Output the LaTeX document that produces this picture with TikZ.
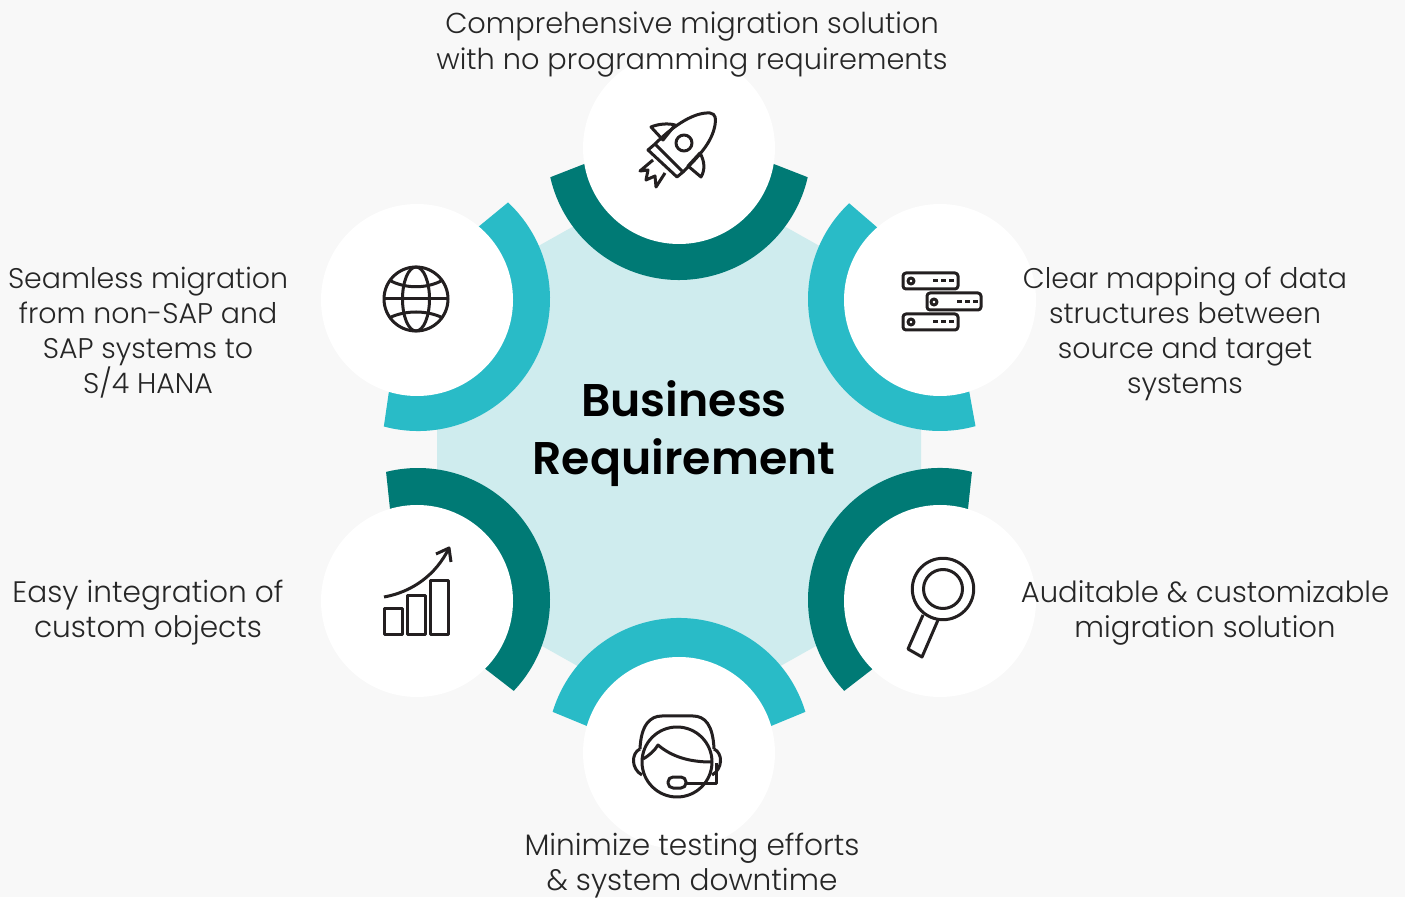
\documentclass[tikz,border=0pt]{standalone}
\usepackage{fontspec}
\setmainfont{Poppins}[UprightFont=* Light,BoldFont=* SemiBold]
\definecolor{pagegrey}{HTML}{F8F8F8}
\definecolor{darkteal}{HTML}{007A75}
\definecolor{lightteal}{HTML}{29BBC7}
\definecolor{paleteal}{HTML}{CFECEE}
\definecolor{icongrey}{HTML}{231F20}
\tikzset{
	whitedisc/.style={circle,fill=white,minimum size=192pt,inner sep=0pt},
	caption/.style={align=center,font=\fontsize{28.4}{35}\selectfont,text=black!85,inner sep=0pt},
	widecaption/.style={caption,font=\fontsize{29.6}{35}\selectfont},
	iconline/.style={draw=icongrey,line width=3pt,line join=round},
}

\begin{document}
\begin{tikzpicture}[x=1pt,y=1pt]
	\useasboundingbox (0,0) rectangle (1405,897);
	\fill[pagegrey] (0,0) rectangle (1405,897);

	% centre hexagon
	\fill[paleteal] (437,310) -- (437,594) -- (679,730) -- (921,594) -- (921,310) -- (679,174) -- cycle;

	% rings
	\fill[darkteal] (679,770) -- ([shift={(679,749)}]192.8:132) arc (192.8:347.2:132) -- cycle;
	\fill[lightteal] (951,606) -- ([shift={(940,598)}]133.5:132) arc (133.5:285.6:132) -- cycle;
	\fill[darkteal] (958,294) -- ([shift={(940,297)}]76:132) arc (76:223.5:132) -- cycle;
	\fill[lightteal] (679,133) -- ([shift={(679,147)}]16.8:132) arc (16.8:163.2:132) -- cycle;
	\fill[darkteal] (400,294) -- ([shift={(418,297)}]-43.5:132) arc (-43.5:104:132) -- cycle;
	\fill[lightteal] (404,609) -- ([shift={(418,598)}]-105:132) arc (-105:47:132) -- cycle;

	% discs
	\node[whitedisc] (top) at (679,749) {};
	\node[whitedisc] (topright) at (940,597) {};
	\node[whitedisc] (botright) at (940,296) {};
	\node[whitedisc] (bottom) at (679,144) {};
	\node[whitedisc] (botleft) at (417,296) {};
	\node[whitedisc] (topleft) at (417,597) {};

	% labels
	\node[font=\fontsize{45.8}{58}\selectfont\bfseries,align=center,inner sep=0pt] (business) at (684,463.5) {Business\\Requirement};
	\node[caption,font=\fontsize{28.8}{36}\selectfont] (migration) at (692,852.5) {Comprehensive migration solution\\with no programming requirements};
	\node[caption] (mapping) at (1185,563) {Clear mapping of data\\structures between\\source and target\\systems};
	\node[caption,font=\fontsize{29.1}{35}\selectfont] (audit) at (1205,284) {Auditable \& customizable\\migration solution};
	\node[widecaption] (testing) at (692,31) {Minimize testing efforts\\\& system downtime};
	\node[widecaption] (integration) at (148,284) {Easy integration of\\custom objects};
	\node[caption] (seamless) at (148,564) {Seamless migration\\from non-SAP and\\SAP systems to\\S/4 HANA};

	% rocket
	\draw[iconline] (655,753) .. controls (675,773) and (695,785) .. (710,784) .. controls (716,783) and (716,778) .. (715,772) .. controls (712,755) and (700,742) .. (683,725);
	\draw[iconline] (655,753) -- (648,747) -- (677,720) -- (683,725) -- cycle;
	\draw[iconline] (651,770) .. controls (658,773) and (668,774) .. (675,772) -- (663,757) -- cycle;
	\draw[iconline] (700,744) .. controls (705,735) and (705,727) .. (701,720) -- (688,731) -- cycle;
	\draw[iconline] (684,754) circle (8pt);
	\draw[iconline] (653,737) -- (640,726) -- (648,727) -- (646,717) -- (655,721) -- (656,710) -- (665,724);

	% server racks
	\draw[iconline,rounded corners=3pt] (903,608) rectangle (958,624);
	\draw[iconline,rounded corners=3pt] (927,587) rectangle (981,604);
	\draw[iconline,rounded corners=3pt] (903,567) rectangle (958,583);
	\draw[iconline] (911,616) circle (3pt);
	\draw[iconline] (934,595) circle (3pt);
	\draw[iconline] (911,575) circle (3pt);
	\draw[iconline,dash pattern=on 5pt off 3pt] (933,616) -- (954,616);
	\draw[iconline,dash pattern=on 5pt off 3pt] (957,595) -- (978,595);
	\draw[iconline,dash pattern=on 5pt off 3pt] (933,575) -- (954,575);

	% magnifier
	\draw[iconline] (943,308) circle (30.7pt);
	\draw[iconline] (943,308) circle (19.5pt);
	\draw[iconline] (923,282) -- (908,248) -- (922,240) -- (938,277);

	% headset
	\draw[iconline] (677,135) circle (35pt);
	\draw[iconline] (640,148) .. controls (641,172) and (650,181) .. (662,181) -- (693,181) .. controls (705,181) and (713,172) .. (714,148);
	\draw[iconline] (640,148) .. controls (631,144) and (631,128) .. (642,122);
	\draw[iconline] (714,148) .. controls (723,144) and (723,128) .. (712,122);
	\draw[iconline] (643,138) .. controls (650,142) and (655,147) .. (658,152) .. controls (672,140) and (690,135) .. (711,135);
	\draw[iconline,rounded corners=5pt] (668,109) rectangle (686,120);
	\draw[iconline] (686,114) -- (716,114) -- (716,134);

	% chart
	\draw[iconline] (384,262) rectangle (402,288);
	\draw[iconline] (407,262) rectangle (425,301);
	\draw[iconline] (430,262) rectangle (448,316);
	\draw[iconline] (384,300) .. controls (412,305) and (436,322) .. (449,349);
	\draw[iconline] (436,343) -- (449,349) -- (451,335);

	% globe
	\draw[iconline] (416,598) circle (32pt);
	\draw[iconline] (416,598) ellipse (13.5pt and 32pt);
	\draw[iconline] (384,598) -- (448,598);
	\draw[iconline] (389,617) .. controls (405,608) and (427,608) .. (443,617);
	\draw[iconline] (389,579) .. controls (405,587) and (427,587) .. (443,579);
\end{tikzpicture}
\end{document}
